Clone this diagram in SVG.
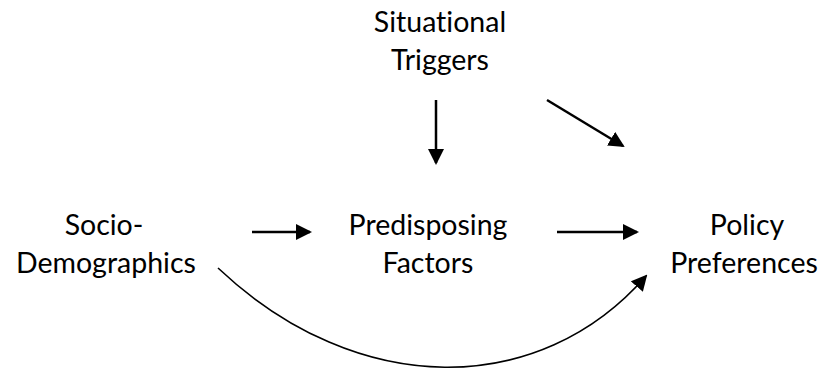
<svg xmlns="http://www.w3.org/2000/svg" width="821" height="372" viewBox="0 0 821 372">
<style>
text{font-family:Lato,"Open Sans",sans-serif;font-size:28.5px;fill:#000;text-anchor:middle;font-variant-ligatures:none}
.c{fill:none;stroke:#000;stroke-width:2.5}
.cv{fill:none;stroke:#000;stroke-width:1.6}
</style>
<defs>
<marker id="ah" markerUnits="userSpaceOnUse" markerWidth="16" markerHeight="16" refX="14" refY="8" orient="auto" viewBox="0 0 16 16">
<path d="M0,0 L16,8 L0,16 z" fill="#000"/>
</marker>
</defs>
<rect width="821" height="372" fill="#fff"/>
<g id="triggers"><text x="440" y="32">Situational</text><text x="440" y="70">Triggers</text></g>
<g id="socio"><text x="104" y="235">Socio-</text><text x="106" y="273">Demographics</text></g>
<g id="predisposing"><text x="428" y="235">Predisposing</text><text x="428" y="273">Factors</text></g>
<g id="policy"><text x="747" y="235">Policy</text><text x="744" y="273">Preferences</text></g>
<g id="connectors">
<line class="c" x1="436" y1="100" x2="436" y2="163" marker-end="url(#ah)"/>
<line class="c" x1="547" y1="100" x2="623" y2="146" marker-end="url(#ah)"/>
<line class="c" x1="252" y1="232" x2="310" y2="232" marker-end="url(#ah)"/>
<line class="c" x1="557" y1="232" x2="637" y2="232" marker-end="url(#ah)"/>
<path class="cv" d="M218,268 C358,400 540,398 646,276" marker-end="url(#ah)"/>
</g>
</svg>
